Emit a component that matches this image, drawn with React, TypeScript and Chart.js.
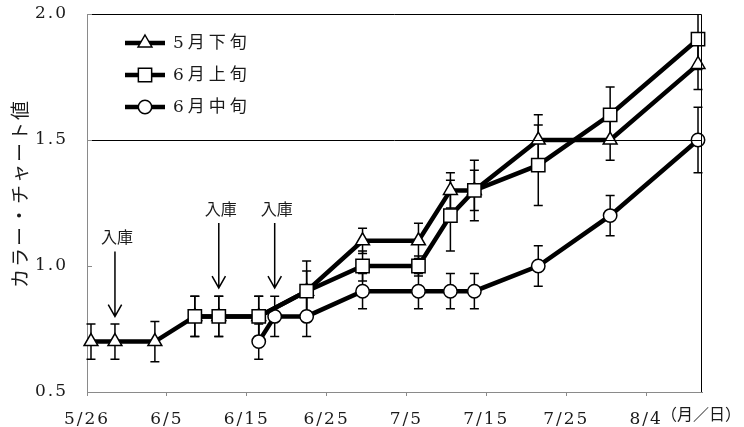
import React, { useEffect, useRef } from "react";
import { Chart, registerables } from "chart.js";

Chart.register(...registerables);

// ---- data (days counted from 5/26) ----
const xTickDays = [0, 10, 20, 30, 40, 50, 60, 70];
const xTickLabels = ["5/26", "6/5", "6/15", "6/25", "7/5", "7/15", "7/25", "8/4"];
const xUnitLabel = "（月／日）";
const yTickValues = [0.5, 1.0, 1.5, 2.0];
const yTickLabels = ["0.5", "1.0", "1.5", "2.0"];
const yTitle = "カラー・チャート値";
const seriesNames = ["5月下旬", "6月上旬", "6月中旬"];

const lateMayDays = [0, 3, 8, 13, 16, 21, 27, 34, 41, 45, 48, 56, 65, 76];
const lateMayValues = [0.7, 0.7, 0.7, 0.8, 0.8, 0.8, 0.9, 1.1, 1.1, 1.3, 1.3, 1.5, 1.5, 1.8];
const lateMayErrors = [0.07, 0.07, 0.08, 0.08, 0.08, 0.08, 0.08, 0.05, 0.07, 0.07, 0.08, 0.1, 0.08, 0.1];

const earlyJuneDays = [13, 16, 21, 27, 34, 41, 45, 48, 56, 65, 76];
const earlyJuneValues = [0.8, 0.8, 0.8, 0.9, 1.0, 1.0, 1.2, 1.3, 1.4, 1.6, 1.9];
const earlyJuneErrors = [0.08, 0.08, 0.08, 0.12, 0.06, 0.04, 0.14, 0.12, 0.16, 0.11, 0.12];

const midJuneDays = [21, 23, 27, 34, 41, 45, 48, 56, 65, 76];
const midJuneValues = [0.7, 0.8, 0.8, 0.9, 0.9, 0.9, 0.9, 1.0, 1.2, 1.5];
const midJuneErrors = [0.07, 0.08, 0.08, 0.07, 0.07, 0.07, 0.07, 0.08, 0.08, 0.13];

// storage ("入庫") annotations: day and arrow-tip value
const storageDays = [3, 16, 23];
const storageTipValues = [0.8, 0.913, 0.913];
const storageLabel = "入庫";

const referenceValue = 1.5;
const X_MIN = 0;
const X_MAX = 77;
const DAY_CENTER = 0.5;

// ---- styles ----
const GREY = "#8a8a8a";
const TEXT = "#1a1a1a";
const SERIF = "'DejaVu Serif', 'Noto Sans CJK JP', serif";
const CJK = "'Noto Sans CJK JP', 'DejaVu Serif', sans-serif";

type Series = {
  name: string;
  days: number[];
  values: number[];
  errors: number[];
  style: "triangle" | "rect" | "circle";
  radius: number;
  order: number;
};

const seriesList: Series[] = [
  { name: seriesNames[0], days: lateMayDays, values: lateMayValues, errors: lateMayErrors, style: "triangle", radius: 8, order: 3 },
  { name: seriesNames[1], days: earlyJuneDays, values: earlyJuneValues, errors: earlyJuneErrors, style: "rect", radius: 9.4, order: 1 },
  { name: seriesNames[2], days: midJuneDays, values: midJuneValues, errors: midJuneErrors, style: "circle", radius: 6.7, order: 2 },
];

function drawMarker(ctx: CanvasRenderingContext2D, style: string, x: number, y: number, r: number) {
  ctx.beginPath();
  if (style === "circle") {
    ctx.arc(x, y, r, 0, Math.PI * 2);
  } else if (style === "rect") {
    const s = r * Math.SQRT1_2;
    ctx.rect(x - s, y - s, 2 * s, 2 * s);
  } else {
    ctx.moveTo(x, y - r);
    ctx.lineTo(x + 0.866 * r, y + r / 2);
    ctx.lineTo(x - 0.866 * r, y + r / 2);
    ctx.closePath();
  }
  ctx.fill();
  ctx.stroke();
}

const spacingPlugin = {
  id: "spacing",
  beforeDraw(chart: any) {
    (chart.ctx as any).letterSpacing = "2px";
  },
};

const errorBarPlugin = {
  id: "errorBars",
  beforeDatasetsDraw(chart: any) {
    const { ctx, chartArea, scales } = chart;
    const x = scales.x;
    const y = scales.y;
    ctx.save();
    ctx.beginPath();
    ctx.rect(chartArea.left - 20, chartArea.top, chartArea.right - chartArea.left + 40, chartArea.bottom - chartArea.top);
    ctx.clip();
    ctx.strokeStyle = "#000";
    ctx.lineWidth = 1.5;
    seriesList.forEach((s) => {
      s.days.forEach((d, i) => {
        const px = x.getPixelForValue(d + DAY_CENTER);
        const top = y.getPixelForValue(s.values[i] + s.errors[i]);
        const bot = y.getPixelForValue(s.values[i] - s.errors[i]);
        ctx.beginPath();
        ctx.moveTo(px, top);
        ctx.lineTo(px, bot);
        ctx.moveTo(px - 4.5, top);
        ctx.lineTo(px + 4.5, top);
        ctx.moveTo(px - 4.5, bot);
        ctx.lineTo(px + 4.5, bot);
        ctx.stroke();
      });
    });
    ctx.restore();
  },
};

const decorPlugin = {
  id: "decor",
  afterDatasetsDraw(chart: any) {
    const { ctx, chartArea, scales } = chart;
    const x = scales.x;
    const y = scales.y;
    ctx.save();
    // reference line
    const ry = Math.round(y.getPixelForValue(referenceValue)) + 0.5;
    ctx.strokeStyle = "#000";
    ctx.lineWidth = 1;
    ctx.beginPath();
    ctx.moveTo(chartArea.left, ry);
    ctx.lineTo(chartArea.right, ry);
    ctx.stroke();
    // top & right border
    ctx.beginPath();
    const ty = Math.round(chartArea.top) + 0.5;
    const rx = Math.round(chartArea.right) - 0.5;
    ctx.moveTo(chartArea.left, ty);
    ctx.lineTo(rx, ty);
    ctx.lineTo(rx, chartArea.bottom);
    ctx.stroke();
    // inward y ticks
    ctx.strokeStyle = GREY;
    yTickValues.forEach((v) => {
      const py = Math.round(y.getPixelForValue(v)) + 0.5;
      ctx.beginPath();
      ctx.moveTo(chartArea.left, py);
      ctx.lineTo(chartArea.left + 5, py);
      ctx.stroke();
    });
    // storage arrows
    ctx.strokeStyle = "#000";
    ctx.lineWidth = 1.5;
    (ctx as any).letterSpacing = "0px";
    ctx.font = `16px ${CJK}`;
    ctx.fillStyle = TEXT;
    ctx.textAlign = "center";
    ctx.textBaseline = "middle";
    storageDays.forEach((d, i) => {
      const px = x.getPixelForValue(d + DAY_CENTER);
      const tip = y.getPixelForValue(storageTipValues[i]);
      const tail = tip - 65;
      ctx.beginPath();
      ctx.moveTo(px, tail);
      ctx.lineTo(px, tip);
      ctx.moveTo(px - 6.7, tip - 11.7);
      ctx.lineTo(px, tip);
      ctx.lineTo(px + 6.7, tip - 11.7);
      ctx.stroke();
      ctx.fillText(storageLabel, px + 2, tail - 14);
    });
    ctx.restore();
  },
  afterDraw(chart: any) {
    const { ctx, chartArea, scales } = chart;
    const x = scales.x;
    ctx.save();
    // legend
    seriesList.forEach((s, i) => {
      const ly = chartArea.top + 29 + i * 32;
      const lx = chartArea.left + 38;
      ctx.strokeStyle = "#000";
      ctx.lineWidth = 4.5;
      ctx.beginPath();
      ctx.moveTo(lx, ly);
      ctx.lineTo(lx + 40, ly);
      ctx.stroke();
      ctx.fillStyle = "#fff";
      ctx.lineWidth = 1.5;
      drawMarker(ctx, s.style, lx + 20, ly, s.radius);
      ctx.fillStyle = TEXT;
      (ctx as any).letterSpacing = "4px";
      ctx.font = `17px ${SERIF}`;
      ctx.textAlign = "left";
      ctx.textBaseline = "middle";
      ctx.fillText(s.name, lx + 48, ly + 1);
    });
    // y title
    ctx.save();
    (ctx as any).letterSpacing = "2px";
    ctx.font = `19px ${CJK}`;
    ctx.fillStyle = TEXT;
    ctx.textAlign = "center";
    ctx.textBaseline = "middle";
    ctx.translate(chartArea.left - 67, (chartArea.top + chartArea.bottom) / 2 - 9.5);
    ctx.rotate(-Math.PI / 2);
    ctx.fillText(yTitle, 0, 0);
    ctx.restore();
    // x unit label
    (ctx as any).letterSpacing = "0px";
    ctx.font = `16px ${CJK}`;
    ctx.fillStyle = TEXT;
    ctx.textAlign = "left";
    ctx.textBaseline = "middle";
    ctx.fillText(xUnitLabel, x.getPixelForValue(xTickDays[xTickDays.length - 1]) + 15, x.top + 22);
    ctx.restore();
  },
};

export default function App() {
  const canvasRef = useRef<HTMLCanvasElement | null>(null);

  useEffect(() => {
    document.body.style.margin = "0";
    const canvas = canvasRef.current;
    if (!canvas) return;
    Chart.defaults.font.family = SERIF;
    const chart = new Chart(canvas, {
      type: "line",
      data: {
        datasets: seriesList.map((s) => ({
          label: s.name,
          data: s.days.map((d, i) => ({ x: d + DAY_CENTER, y: s.values[i] })),
          borderColor: "#000",
          borderWidth: 4.5,
          tension: 0,
          fill: false,
          pointStyle: s.style,
          pointRadius: s.radius,
          pointHoverRadius: s.radius,
          pointBorderWidth: 1.5,
          pointBorderColor: "#000",
          pointBackgroundColor: "#fff",
          order: s.order,
          clip: false as any,
        })),
      },
      options: {
        animation: false,
        responsive: true,
        maintainAspectRatio: false,
        layout: { padding: { top: 14, right: 42, left: 0, bottom: 0 } },
        plugins: {
          legend: { display: false },
          tooltip: { enabled: false },
        },
        events: [],
        scales: {
          x: {
            type: "linear",
            min: X_MIN,
            max: X_MAX,
            afterBuildTicks: (s: any) => {
              s.ticks = xTickDays.map((v) => ({ value: v }));
            },
            afterFit: (s: any) => {
              s.height = 35;
              s.paddingLeft = 0;
              s.paddingRight = 0;
              s.paddingTop = 0;
              s.paddingBottom = 0;
            },
            ticks: {
              autoSkip: false,
              maxRotation: 0,
              padding: 13,
              color: TEXT,
              font: { size: 17, family: SERIF },
              callback: (v: any) => {
                const idx = xTickDays.indexOf(Number(v));
                return idx >= 0 ? xTickLabels[idx] : "";
              },
            },
            grid: { drawOnChartArea: false, drawTicks: true, tickLength: 4, color: GREY, lineWidth: 1 },
            border: { display: true, color: GREY, width: 1 },
          },
          y: {
            type: "linear",
            min: 0.5,
            max: 2.0,
            afterBuildTicks: (s: any) => {
              s.ticks = yTickValues.map((v) => ({ value: v }));
            },
            afterFit: (s: any) => {
              s.width = 87;
              s.paddingLeft = 0;
              s.paddingRight = 0;
              s.paddingTop = 0;
              s.paddingBottom = 0;
            },
            ticks: {
              padding: 19,
              color: TEXT,
              font: { size: 17, family: SERIF },
              callback: (v: any) => {
                const idx = yTickValues.indexOf(Number(v));
                return idx >= 0 ? yTickLabels[idx] : "";
              },
            },
            grid: { drawOnChartArea: false, drawTicks: false, color: GREY },
            border: { display: true, color: GREY, width: 1 },
          },
        },
      },
      plugins: [spacingPlugin, errorBarPlugin, decorPlugin],
    });
    return () => chart.destroy();
  }, []);

  return (
    <div style={{ width: 744, height: 427, position: "relative" }}>
      <canvas ref={canvasRef} />
    </div>
  );
}
